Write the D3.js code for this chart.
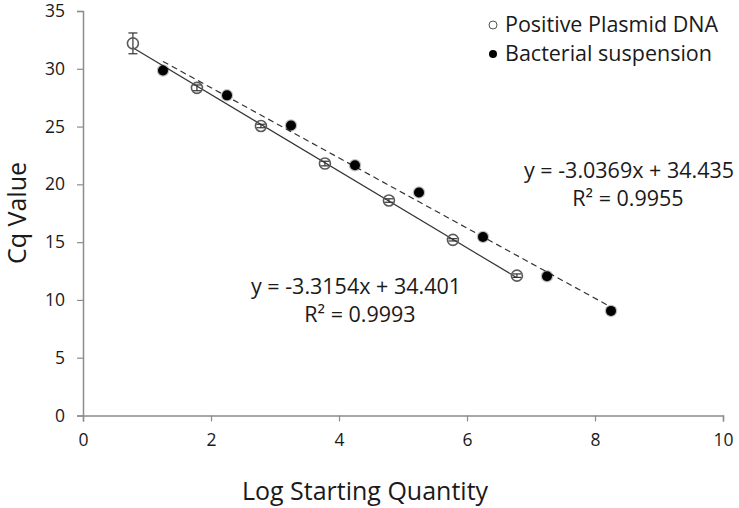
<!DOCTYPE html>
<html><head><meta charset="utf-8">
<script src="https://cdn.jsdelivr.net/npm/d3@7"></script>
<style>body{margin:0;background:#fff}svg{display:block}text{font-family:"Open Sans",Lato,sans-serif;fill:#1a1a1a}</style>
</head><body>
<script>
const plasmidX = [0.78, 1.78, 2.78, 3.78, 4.78, 5.78, 6.78];
const plasmidY = [32.2, 28.35, 25.05, 21.8, 18.6, 15.2, 12.1];
const plasmidErr = [0.9, 0.25, 0.15, 0.2, 0.15, 0.1, 0.15];
const bactX = [1.25, 2.25, 3.25, 4.25, 5.25, 6.25, 7.25, 8.25];
const bactY = [29.85, 27.7, 25.1, 21.65, 19.3, 15.45, 12.05, 9.05];
const plasmidFit = {slope: -3.3154, intercept: 34.401};
const bactFit = {slope: -3.0369, intercept: 34.435};
const xTicks = [0, 2, 4, 6, 8, 10];
const yTicks = [0, 5, 10, 15, 20, 25, 30, 35];
const legendLabels = ["Positive Plasmid DNA", "Bacterial suspension"];
const eq1 = ["y = -3.0369x + 34.435", "R² = 0.9955"];
const eq2 = ["y = -3.3154x + 34.401", "R² = 0.9993"];

const W = 739, H = 508;
const svg = d3.select("body").append("svg").attr("width", W).attr("height", H);
const x = d3.scaleLinear().domain([0, 10]).range([83, 723]);
const y = d3.scaleLinear().domain([0, 35]).range([415.5, 11]);
const axisCol = "#8c8c8c";
const FONT = "'Open Sans', Lato, sans-serif";

const xa = svg.append("g").attr("transform", `translate(0,${y(0)})`)
  .call(d3.axisBottom(x).tickValues(xTicks).tickSize(6).tickPadding(12).tickFormat(d3.format("d")));
const ya = svg.append("g").attr("transform", `translate(${x(0)},0)`)
  .call(d3.axisLeft(y).tickValues(yTicks).tickSize(6).tickPadding(12).tickFormat(d3.format("d")));
[xa, ya].forEach(a => {
  a.select(".domain").attr("stroke", axisCol).attr("stroke-width", 1.5);
  a.selectAll(".tick line").attr("stroke", axisCol).attr("stroke-width", 1.2);
  a.selectAll(".tick text").attr("font-size", 17.5).attr("fill", "#1a1a1a").style("font-family", FONT);
});

// trendlines
const fitLine = (fit, xs) => xs.map(v => [x(v), y(fit.slope * v + fit.intercept)]);
const line = d3.line();
svg.append("path").attr("d", line(fitLine(plasmidFit, [d3.min(plasmidX), d3.max(plasmidX)])))
  .attr("stroke", "#333").attr("stroke-width", 1.2).attr("fill", "none");
svg.append("path").attr("d", line(fitLine(bactFit, [d3.min(bactX), d3.max(bactX)])))
  .attr("stroke", "#333").attr("stroke-width", 1.2).attr("fill", "none").attr("stroke-dasharray", "6,4");

// error bars
const eb = svg.append("g").attr("stroke", "#333").attr("stroke-width", 1.2);
plasmidX.forEach((v, i) => {
  const cx = x(v), t = y(plasmidY[i] + plasmidErr[i]), b = y(plasmidY[i] - plasmidErr[i]);
  eb.append("line").attr("x1", cx).attr("x2", cx).attr("y1", t).attr("y2", b);
  eb.append("line").attr("x1", cx - 4.5).attr("x2", cx + 4.5).attr("y1", t).attr("y2", t);
  eb.append("line").attr("x1", cx - 4.5).attr("x2", cx + 4.5).attr("y1", b).attr("y2", b);
});

// markers
svg.append("g").selectAll("circle").data(plasmidX).join("circle")
  .attr("cx", d => x(d)).attr("cy", (d, i) => y(plasmidY[i])).attr("r", 5.5)
  .attr("fill", "none").attr("stroke", "#5a5a5a").attr("stroke-width", 1.6);
svg.append("g").selectAll("circle").data(bactX).join("circle")
  .attr("cx", d => x(d)).attr("cy", (d, i) => y(bactY[i])).attr("r", 5)
  .attr("fill", "#000").attr("stroke", "rgba(0,0,0,0.25)").attr("stroke-width", 2.5);

// legend
const lg = svg.append("g");
lg.append("circle").attr("cx", 493).attr("cy", 25).attr("r", 4).attr("fill", "#fff").attr("stroke", "#555").attr("stroke-width", 1);
lg.append("circle").attr("cx", 493).attr("cy", 54).attr("r", 4).attr("fill", "#000");
lg.append("text").attr("x", 505).attr("y", 32).attr("font-size", 21.5).text(legendLabels[0]);
lg.append("text").attr("x", 505).attr("y", 61).attr("font-size", 21.5).text(legendLabels[1]);

// equations
svg.append("text").attr("x", 629).attr("y", 178).attr("text-anchor", "middle").attr("font-size", 21.5).text(eq1[0]);
svg.append("text").attr("x", 628).attr("y", 206).attr("text-anchor", "middle").attr("font-size", 21.5).text(eq1[1]);
svg.append("text").attr("x", 356).attr("y", 294).attr("text-anchor", "middle").attr("font-size", 21.5).text(eq2[0]);
svg.append("text").attr("x", 360).attr("y", 322).attr("text-anchor", "middle").attr("font-size", 21.5).text(eq2[1]);

// axis titles
svg.append("text").attr("x", 365).attr("y", 500).attr("text-anchor", "middle").attr("font-size", 25).text("Log Starting Quantity");
svg.append("text").attr("transform", "translate(26,213) rotate(-90)").attr("text-anchor", "middle").attr("font-size", 25).text("Cq Value");
</script>
</body></html>
